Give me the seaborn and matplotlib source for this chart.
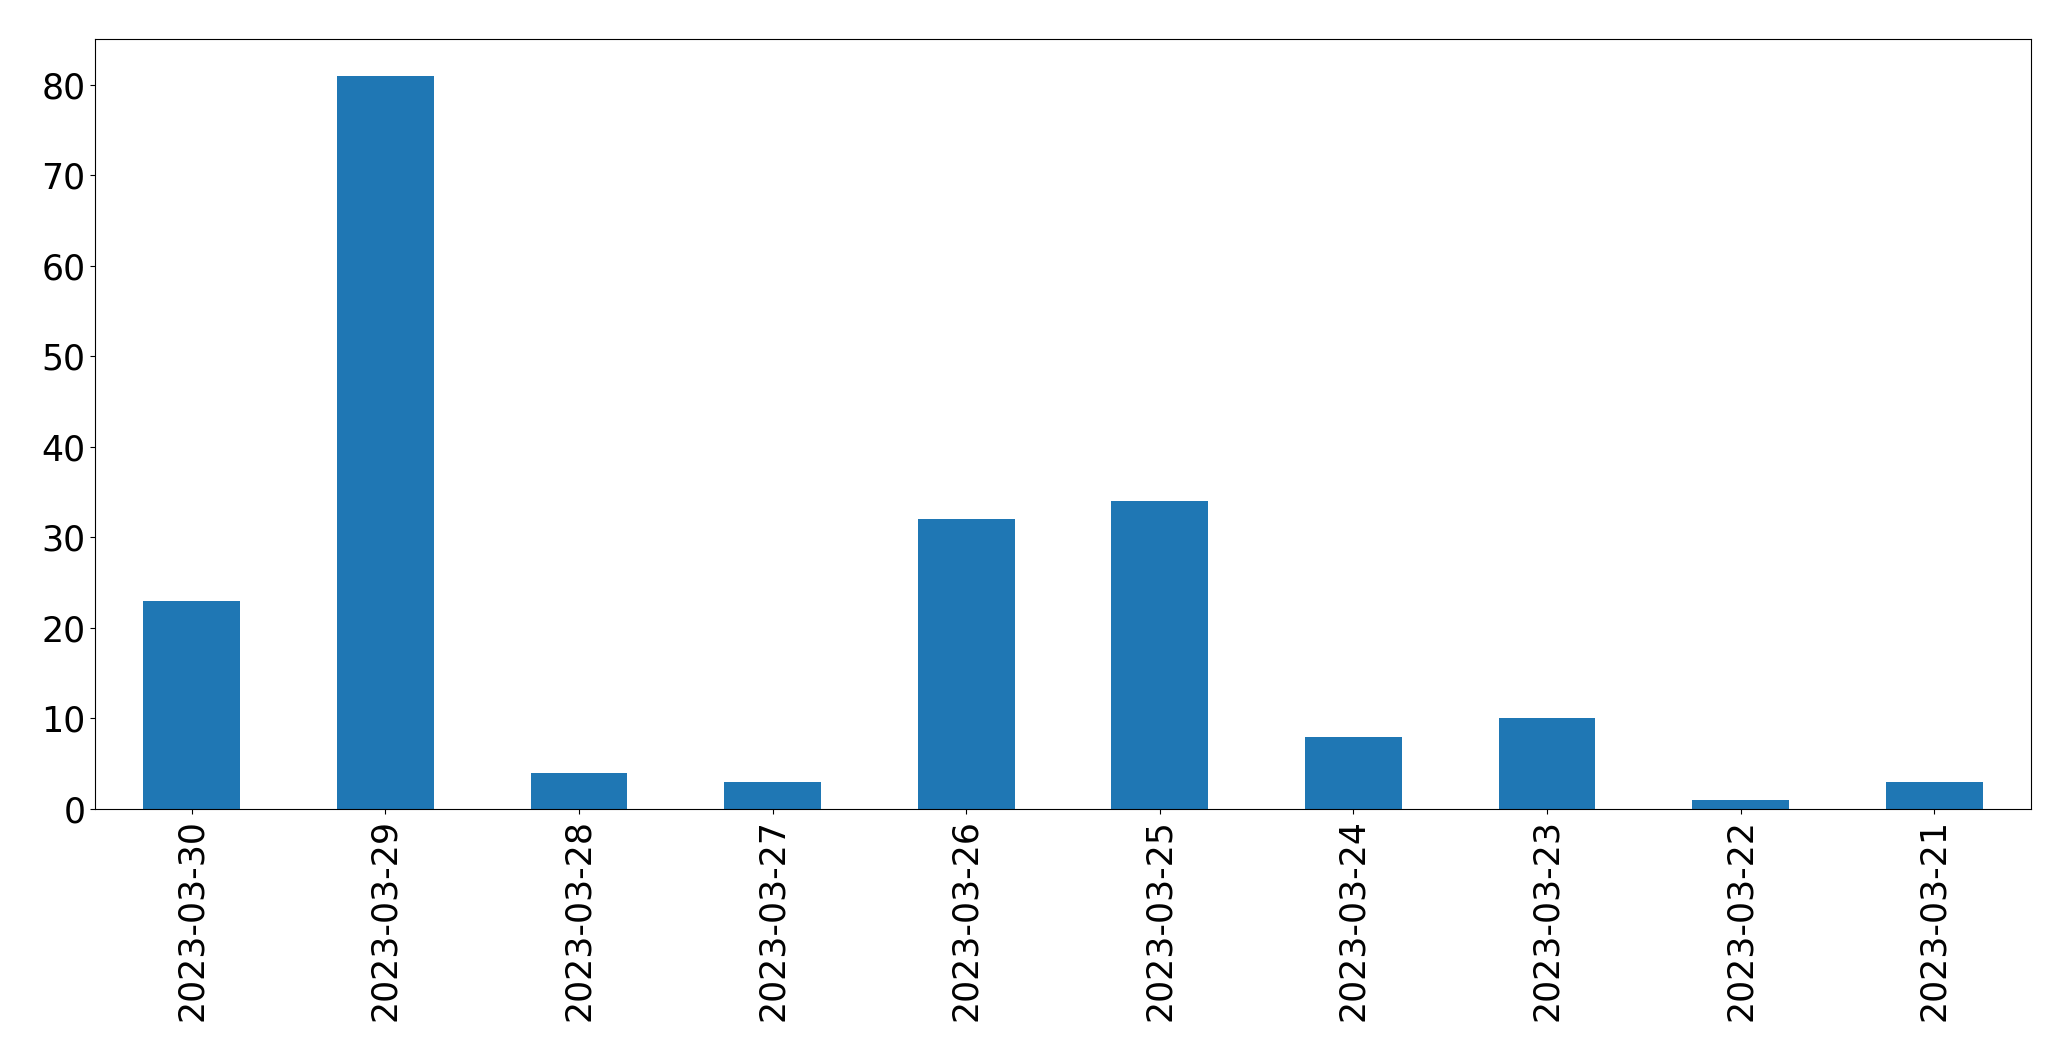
import pandas as pd
import matplotlib
matplotlib.use('Agg')
import matplotlib.pyplot as plt
import seaborn as sns

dates = ['2023-03-30', '2023-03-29', '2023-03-28', '2023-03-27', '2023-03-26',
         '2023-03-25', '2023-03-24', '2023-03-23', '2023-03-22', '2023-03-21']
counts = [23, 81, 4, 3, 32, 34, 8, 10, 1, 3]

df = pd.DataFrame({'date': dates, 'count': counts})

fig, ax = plt.subplots(figsize=(20.71, 10.61), dpi=100)
sns.barplot(data=df, x='date', y='count', color='#1f77b4', saturation=1,
            width=0.5, ax=ax)
ax.set_xlabel('')
ax.set_ylabel('')
ax.tick_params(axis='both', labelsize=25)
plt.xticks(rotation=90)
fig.subplots_adjust(left=0.0459, right=0.9807, top=0.9632, bottom=0.2375)
plt.savefig('out.png', dpi=100)
